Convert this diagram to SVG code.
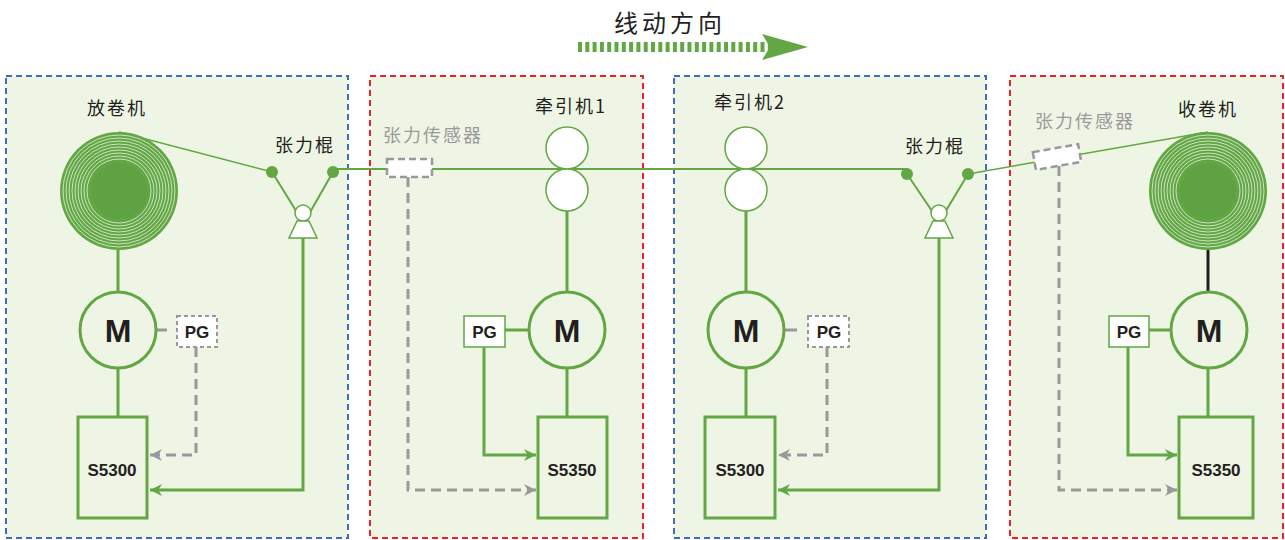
<svg xmlns="http://www.w3.org/2000/svg" width="1285" height="540" viewBox="0 0 1285 540">
  <style>
    .panel { fill: #eff5e5; stroke-width: 2; stroke-dasharray: 6 4; }
    .blue { stroke: #3d6dbf; }
    .red { stroke: #ec2027; }
    .cn { font-family: "Noto Sans CJK SC", "Noto Sans", sans-serif; font-size: 18px; fill: #231f20; letter-spacing: 2px; }
    .cn-gray { fill: #9a9a9c; }
    .bold { font-family: "Liberation Sans", Arial, sans-serif; font-weight: bold; fill: #231f20; text-anchor: middle; }
    .g { stroke: #62a744; fill: none; }
    .gw { stroke: #62a744; fill: #ffffff; }
    .gray { stroke: #99999b; fill: none; stroke-width: 3; stroke-dasharray: 10 6; }
    .motor { fill: #eff5e5; stroke: #62a744; stroke-width: 3; }
    .box { fill: #eff5e5; stroke: #62a744; stroke-width: 3; }
    .ring { fill: none; stroke: #ffffff; stroke-width: 0.8; opacity: 0.85; }
  </style>
  <defs>
    <marker id="arrG" markerWidth="12" markerHeight="12" refX="10" refY="5" orient="auto" markerUnits="userSpaceOnUse" viewBox="0 0 10 10">
      <path d="M0,0 L10,5 L0,10 L3,5 z" fill="#62a744"/>
    </marker>
    <marker id="arrGray" markerWidth="12" markerHeight="12" refX="10" refY="5" orient="auto" markerUnits="userSpaceOnUse" viewBox="0 0 10 10">
      <path d="M0,0 L10,5 L0,10 L3,5 z" fill="#99999b"/>
    </marker>
    <!-- wound reel: solid core plus concentric white winding lines -->
    <g id="reel">
      <circle r="59" fill="#62a744"/>
      <circle r="56" class="ring"/>
      <circle r="53" class="ring"/>
      <circle r="50" class="ring"/>
      <circle r="47" class="ring"/>
      <circle r="44" class="ring"/>
      <circle r="41" class="ring"/>
      <circle r="38" class="ring"/>
      <circle r="35" class="ring"/>
      <circle r="32" class="ring"/>
      <circle r="28" fill="#5fa243"/>
    </g>
    <!-- dancer roll: pivot roller on a trapezoid base -->
    <g id="dancer">
      <circle r="8" class="gw" stroke-width="1.5"/>
      <path d="M-6,8 L6,8 L14,25 L-14,25 Z" class="gw" stroke-width="1.5"/>
    </g>
  </defs>

  <!-- panels -->
  <g id="panel-unwind"><rect x="6" y="76" width="342" height="462" class="panel blue"/></g>
  <g id="panel-haul1"><rect x="370" y="76" width="273" height="462" class="panel red"/></g>
  <g id="panel-haul2"><rect x="674" y="76" width="312" height="462" class="panel blue"/></g>
  <g id="panel-rewind"><rect x="1010" y="76" width="273" height="462" class="panel red"/></g>

  <!-- line direction indicator -->
  <g id="direction">
    <text x="614" y="32" class="cn" style="font-size:24px;letter-spacing:4px">线动方向</text>
    <line x1="578" y1="47" x2="772" y2="47" stroke="#62a744" stroke-width="10" stroke-dasharray="4 3.3"/>
    <path d="M762,34 L808,47 L762,60 L770,47 Z" fill="#62a744"/>
  </g>

  <!-- connectors -->
  <g id="connectors">
    <!-- web path -->
    <line x1="119" y1="132" x2="272" y2="172" class="g" stroke-width="1.5"/>
    <line x1="272" y1="172" x2="298" y2="214" class="g" stroke-width="2"/>
    <line x1="333" y1="172" x2="309" y2="214" class="g" stroke-width="2"/>
    <line x1="333" y1="169" x2="907" y2="169" class="g" stroke-width="2"/>
    <line x1="907" y1="174" x2="934" y2="214" class="g" stroke-width="2"/>
    <line x1="968" y1="174" x2="944" y2="214" class="g" stroke-width="2"/>
    <line x1="968" y1="174" x2="1208" y2="132" class="g" stroke-width="1.5"/>

    <!-- unwind station -->
    <line x1="118" y1="250" x2="118" y2="292" class="g" stroke-width="3"/>
    <line x1="118" y1="368" x2="118" y2="417" class="g" stroke-width="3"/>
    <line x1="156" y1="330" x2="167" y2="330" stroke="#99999b" stroke-width="3"/>
    <polyline points="196,347 196,455 150,455" class="gray" marker-end="url(#arrGray)"/>
    <polyline points="303,238 303,490 150,490" class="g" stroke-width="3" marker-end="url(#arrG)"/>

    <!-- haul-off 1 -->
    <line x1="567" y1="211" x2="567" y2="292" class="g" stroke-width="3"/>
    <line x1="567" y1="368" x2="567" y2="417" class="g" stroke-width="3"/>
    <line x1="505" y1="330" x2="529" y2="330" class="g" stroke-width="3"/>
    <polyline points="484,347 484,455 536,455" class="g" stroke-width="3" marker-end="url(#arrG)"/>
    <polyline points="408,177 408,490 536,490" class="gray" marker-end="url(#arrGray)"/>

    <!-- haul-off 2 -->
    <line x1="746" y1="211" x2="746" y2="292" class="g" stroke-width="3"/>
    <line x1="746" y1="368" x2="746" y2="417" class="g" stroke-width="3"/>
    <line x1="785" y1="330" x2="797" y2="330" stroke="#99999b" stroke-width="3"/>
    <polyline points="827,347 827,455 778,455" class="gray" marker-end="url(#arrGray)"/>
    <polyline points="939,238 939,490 778,490" class="g" stroke-width="3" marker-end="url(#arrG)"/>

    <!-- rewind station -->
    <line x1="1208" y1="250" x2="1208" y2="292" stroke="#231f20" stroke-width="3"/>
    <line x1="1208" y1="368" x2="1208" y2="417" class="g" stroke-width="3"/>
    <line x1="1149" y1="330" x2="1171" y2="330" class="g" stroke-width="3"/>
    <polyline points="1128,347 1128,455 1177,455" class="g" stroke-width="3" marker-end="url(#arrG)"/>
    <polyline points="1059,166 1059,490 1177,490" class="gray" marker-end="url(#arrGray)"/>
  </g>

  <!-- unwinder -->
  <g id="unwinder">
    <text x="87" y="115" class="cn">放卷机</text>
    <use href="#reel" x="119" y="191"/>
  </g>
  <g id="dancer1">
    <text x="275" y="152" class="cn">张力棍</text>
    <circle cx="272" cy="172" r="6" fill="#62a744"/>
    <circle cx="333" cy="172" r="6" fill="#62a744"/>
    <use href="#dancer" x="303" y="213"/>
  </g>
  <g id="motor1">
    <circle cx="118" cy="330" r="38" class="motor"/>
    <text x="118" y="342" class="bold" font-size="32">M</text>
  </g>
  <g id="pg1">
    <rect x="177" y="316" width="40" height="31" fill="#ffffff" stroke="#99999b" stroke-width="2" stroke-dasharray="4 3"/>
    <text x="197" y="338" class="bold" font-size="17">PG</text>
  </g>
  <g id="drive1">
    <rect x="78" y="417" width="69" height="101" class="box"/>
    <text x="112" y="476" class="bold" font-size="17">S5300</text>
  </g>

  <!-- haul-off 1 -->
  <g id="sensor1">
    <text x="383" y="142" class="cn cn-gray">张力传感器</text>
    <rect x="387" y="159" width="45" height="18" fill="#ffffff" stroke="#99999b" stroke-width="2.5" stroke-dasharray="7 4"/>
  </g>
  <g id="haul1">
    <text x="535" y="113" class="cn">牵引机1</text>
    <circle cx="567" cy="148" r="21" class="gw" stroke-width="1.5"/>
    <circle cx="567" cy="190" r="21" class="gw" stroke-width="1.5"/>
  </g>
  <g id="motor2">
    <circle cx="567" cy="330" r="38" class="motor"/>
    <text x="567" y="342" class="bold" font-size="32">M</text>
  </g>
  <g id="pg2">
    <rect x="464" y="316" width="41" height="31" fill="#ffffff" stroke="#62a744" stroke-width="1.5"/>
    <text x="484.5" y="338" class="bold" font-size="17">PG</text>
  </g>
  <g id="drive2">
    <rect x="538" y="417" width="69" height="101" class="box"/>
    <text x="572" y="476" class="bold" font-size="17">S5350</text>
  </g>

  <!-- haul-off 2 -->
  <g id="haul2">
    <text x="714" y="109" class="cn">牵引机2</text>
    <circle cx="746" cy="148" r="21" class="gw" stroke-width="1.5"/>
    <circle cx="746" cy="190" r="21" class="gw" stroke-width="1.5"/>
  </g>
  <g id="dancer2">
    <text x="905" y="153" class="cn">张力棍</text>
    <circle cx="907" cy="174" r="6" fill="#62a744"/>
    <circle cx="968" cy="174" r="6" fill="#62a744"/>
    <use href="#dancer" x="939" y="213"/>
  </g>
  <g id="motor3">
    <circle cx="746" cy="330" r="38" class="motor"/>
    <text x="746" y="342" class="bold" font-size="32">M</text>
  </g>
  <g id="pg3">
    <rect x="808" y="316" width="41" height="31" fill="#ffffff" stroke="#99999b" stroke-width="2" stroke-dasharray="4 3"/>
    <text x="829" y="338" class="bold" font-size="17">PG</text>
  </g>
  <g id="drive3">
    <rect x="705" y="417" width="70" height="101" class="box"/>
    <text x="740" y="476" class="bold" font-size="17">S5300</text>
  </g>

  <!-- rewinder -->
  <g id="sensor2">
    <text x="1035" y="128" class="cn cn-gray">张力传感器</text>
    <rect x="-23" y="-9" width="46" height="18" transform="translate(1057,157) rotate(-10)" fill="#ffffff" stroke="#99999b" stroke-width="2.5" stroke-dasharray="7 4"/>
  </g>
  <g id="rewinder">
    <text x="1178" y="116" class="cn">收卷机</text>
    <use href="#reel" x="1208" y="191"/>
  </g>
  <g id="motor4">
    <circle cx="1209" cy="330" r="38" class="motor"/>
    <text x="1209" y="342" class="bold" font-size="32">M</text>
  </g>
  <g id="pg4">
    <rect x="1109" y="316" width="40" height="31" fill="#ffffff" stroke="#62a744" stroke-width="1.5"/>
    <text x="1129" y="338" class="bold" font-size="17">PG</text>
  </g>
  <g id="drive4">
    <rect x="1179" y="417" width="74" height="101" class="box"/>
    <text x="1216" y="476" class="bold" font-size="17">S5350</text>
  </g>
</svg>
